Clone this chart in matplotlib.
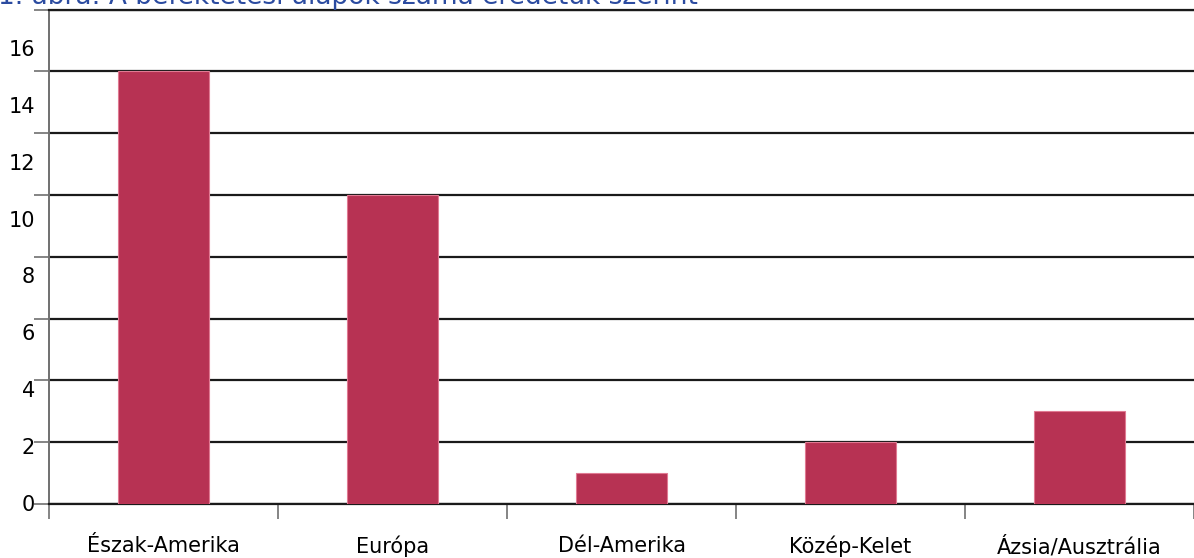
import matplotlib
matplotlib.use("Agg")
import matplotlib.pyplot as plt

categories = ["Észak-Amerika", "Európa", "Dél-Amerika", "Közép-Kelet", "Ázsia/Ausztrália"]
values = [14, 10, 1, 2, 3]
y_ticks = list(range(0, 17, 2))
title = "1. ábra: A befektetési alapok száma eredetük szerint"

W, H = 1194, 558
fig = plt.figure(figsize=(W / 100, H / 100), dpi=100)
fig.patch.set_facecolor("white")

left, right, top, bottom = 49, 1194, 9.5, 504
ax = fig.add_axes([left / W, (H - bottom) / H, (right - left) / W, (bottom - top) / H])
ax.set_xlim(-0.5, len(categories) - 0.5)
ax.set_ylim(0, 16)

ax.bar(range(len(categories)), values, width=0.4, color="#B73253",
       edgecolor="#E07A92", linewidth=0.8, zorder=3)

ax.set_yticks(y_ticks)
ax.set_yticklabels([])
ax.yaxis.grid(True, color="#1a1a1a", linewidth=1.6, zorder=1)
ax.set_axisbelow(True)
ax.tick_params(axis="y", length=11, width=1.2, color="#707070", direction="out")

# category boundary ticks on x axis
ax.set_xticks([i + 0.5 for i in range(-1, len(categories))], minor=False)
ax.set_xticklabels([])
ax.tick_params(axis="x", length=11, width=1.2, color="#707070", direction="out")
ax.set_xticks(range(len(categories)), minor=True)
ax.set_xticklabels(categories, minor=True, fontsize=15, family="DejaVu Sans")
ax.tick_params(axis="x", which="minor", length=0, pad=23)

ax.spines["right"].set_visible(False)
ax.spines["top"].set_color("#1a1a1a")
ax.spines["top"].set_linewidth(1.6)
ax.spines["left"].set_color("#707070")
ax.spines["left"].set_linewidth(1.4)
ax.spines["bottom"].set_color("#1a1a1a")
ax.spines["bottom"].set_linewidth(1.6)

# y labels (as rendered in reference, slightly offset from the gridlines)
ax2 = fig.add_axes(ax.get_position(), frameon=False)
ax2.set_ylim(-0.035, 17.35)
ax2.set_xlim(0, 1)
ax2.set_yticks(y_ticks)
ax2.set_yticklabels([str(v) for v in y_ticks], fontsize=15, family="DejaVu Sans")
ax2.tick_params(axis="y", length=0, pad=10)
ax2.set_xticks([])
ax2.patch.set_visible(False)

fig.text(698 / W, 1 - 4 / H, title, ha="right", va="baseline", fontsize=19,
         color="#2B4BA0", family="DejaVu Sans")

fig.savefig("out.png", dpi=100, facecolor="white")
